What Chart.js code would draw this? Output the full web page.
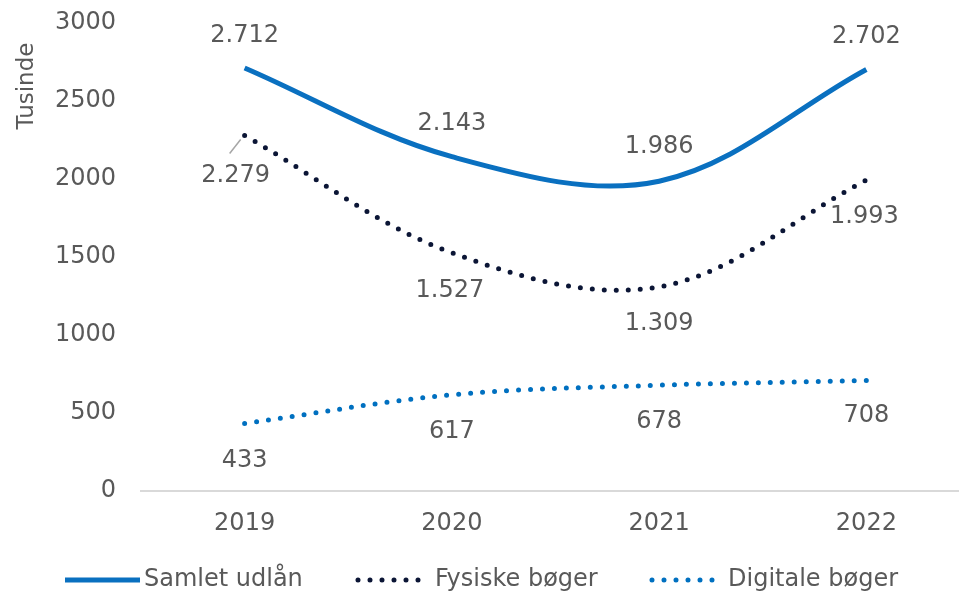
<!DOCTYPE html>
<html>
<head>
<meta charset="utf-8">
<script src="https://cdn.jsdelivr.net/npm/chart.js@4/dist/chart.umd.min.js"></script>
<style>
    html, body { margin: 0; padding: 0; background: #ffffff; overflow: hidden; }
    #wrap { position: relative; width: 970px; height: 596px; }
</style>
</head>
<body>
<div id="wrap"><canvas id="chart"></canvas></div>
<script>
const years = ['2019', '2020', '2021', '2022'];
const samletUdlaan = [2712, 2143, 1986, 2702];
const fysiskeBoeger = [2279, 1527, 1309, 1993];
const digitaleBoeger = [433, 617, 678, 708];
const yTicks = [0, 500, 1000, 1500, 2000, 2500, 3000];

const textColor = '#595959';
const fontFamily = '"DejaVu Sans", sans-serif';

function formatDa(value) {
    return String(value).replace(/\B(?=(\d{3})+(?!\d))/g, '.');
}

// label offsets relative to each point (x, y)
const labelOffsets = [
    [[0, -32], [0, -33], [0, -34], [0, -33]],
    [[-9, 40], [-2, 38], [0, 37], [-2, 37]],
    [[0, 37], [0, 37], [0, 37], [0, 35]],
];

const dataLabels = {
    id: 'dataLabels',
    afterDatasetsDraw(chart) {
        const { ctx } = chart;
        ctx.save();
        ctx.font = '24px ' + fontFamily;
        ctx.fillStyle = textColor;
        ctx.textAlign = 'center';
        ctx.textBaseline = 'middle';
        chart.data.datasets.forEach((ds, di) => {
            const meta = chart.getDatasetMeta(di);
            meta.data.forEach((pt, i) => {
                const [dx, dy] = labelOffsets[di][i];
                ctx.fillText(formatDa(ds.data[i]), pt.x + dx, pt.y + dy);
            });
        });
        // leader line for Fysiske 2019
        const p = chart.getDatasetMeta(1).data[0];
        ctx.strokeStyle = '#a6a6a6';
        ctx.lineWidth = 1.5;
        ctx.beginPath();
        ctx.moveTo(p.x - 15, p.y + 18);
        ctx.lineTo(p.x - 4, p.y + 4);
        ctx.stroke();

        // y axis title
        ctx.save();
        ctx.translate(27, 86);
        ctx.rotate(-Math.PI / 2);
        ctx.font = '23px ' + fontFamily;
        ctx.fillText('Tusinde', 0, 0);
        ctx.restore();
        ctx.restore();
    },
};

const legendItems = [
    { text: 'Samlet udlån', color: '#0a70c0', dotted: false, x1: 65, x2: 140, tx: 144 },
    { text: 'Fysiske bøger', color: '#0b1535', dotted: true, x1: 358, x2: 425, tx: 435 },
    { text: 'Digitale bøger', color: '#0070c0', dotted: true, x1: 652, x2: 718, tx: 728 },
];

const customLegend = {
    id: 'customLegend',
    afterDraw(chart) {
        const { ctx } = chart;
        const y = 580;
        ctx.save();
        legendItems.forEach((item) => {
            ctx.strokeStyle = item.color;
            ctx.lineCap = item.dotted ? 'round' : 'butt';
            ctx.lineWidth = 5;
            ctx.setLineDash(item.dotted ? [0, 12] : []);
            ctx.beginPath();
            ctx.moveTo(item.x1, y);
            ctx.lineTo(item.x2, y);
            ctx.stroke();
            ctx.setLineDash([]);
            ctx.fillStyle = textColor;
            ctx.font = '24px ' + fontFamily;
            ctx.textAlign = 'left';
            ctx.textBaseline = 'middle';
            ctx.fillText(item.text, item.tx, y);
        });
        ctx.restore();
    },
};

new Chart(document.getElementById('chart'), {
    type: 'line',
    data: {
        labels: years,
        datasets: [
            {
                label: 'Samlet udlån',
                data: samletUdlaan,
                borderColor: '#0a70c0',
                borderWidth: 5,
            },
            {
                label: 'Fysiske bøger',
                data: fysiskeBoeger,
                borderColor: '#0b1535',
                borderWidth: 5,
                borderDash: [0, 12],
                borderCapStyle: 'round',
            },
            {
                label: 'Digitale bøger',
                data: digitaleBoeger,
                borderColor: '#0070c0',
                borderWidth: 5,
                borderDash: [0, 12],
                borderCapStyle: 'round',
            },
        ],
    },
    options: {
        responsive: true,
        maintainAspectRatio: false,
        animation: false,
        layout: {
            padding: { top: 23, right: 0, bottom: 45, left: 0 },
        },
        elements: {
            point: { radius: 0, hoverRadius: 0 },
            line: { tension: 0.35, fill: false },
        },
        plugins: {
            legend: { display: false },
            tooltip: { enabled: false },
        },
        scales: {
            x: {
                offset: true,
                grid: { display: false, drawTicks: false },
                border: { display: true, color: '#d9d9d9', width: 2 },
                ticks: {
                    color: textColor,
                    padding: 18,
                    font: { family: fontFamily, size: 24 },
                },
                afterFit(scale) { scale.height = 60; },
            },
            y: {
                min: 0,
                max: 3000,
                afterBuildTicks(scale) {
                    scale.ticks = yTicks.map((v) => ({ value: v }));
                },
                grid: { display: false, drawTicks: false },
                border: { display: false },
                ticks: {
                    color: textColor,
                    padding: 25,
                    font: { family: fontFamily, size: 24 },
                    callback: (value) => String(value),
                },
                afterFit(scale) {
                    scale.width = 141;
                    scale.paddingTop = 0;
                    scale.paddingBottom = 0;
                },
            },
        },
    },
    plugins: [dataLabels, customLegend],
});
</script>
</body>
</html>
